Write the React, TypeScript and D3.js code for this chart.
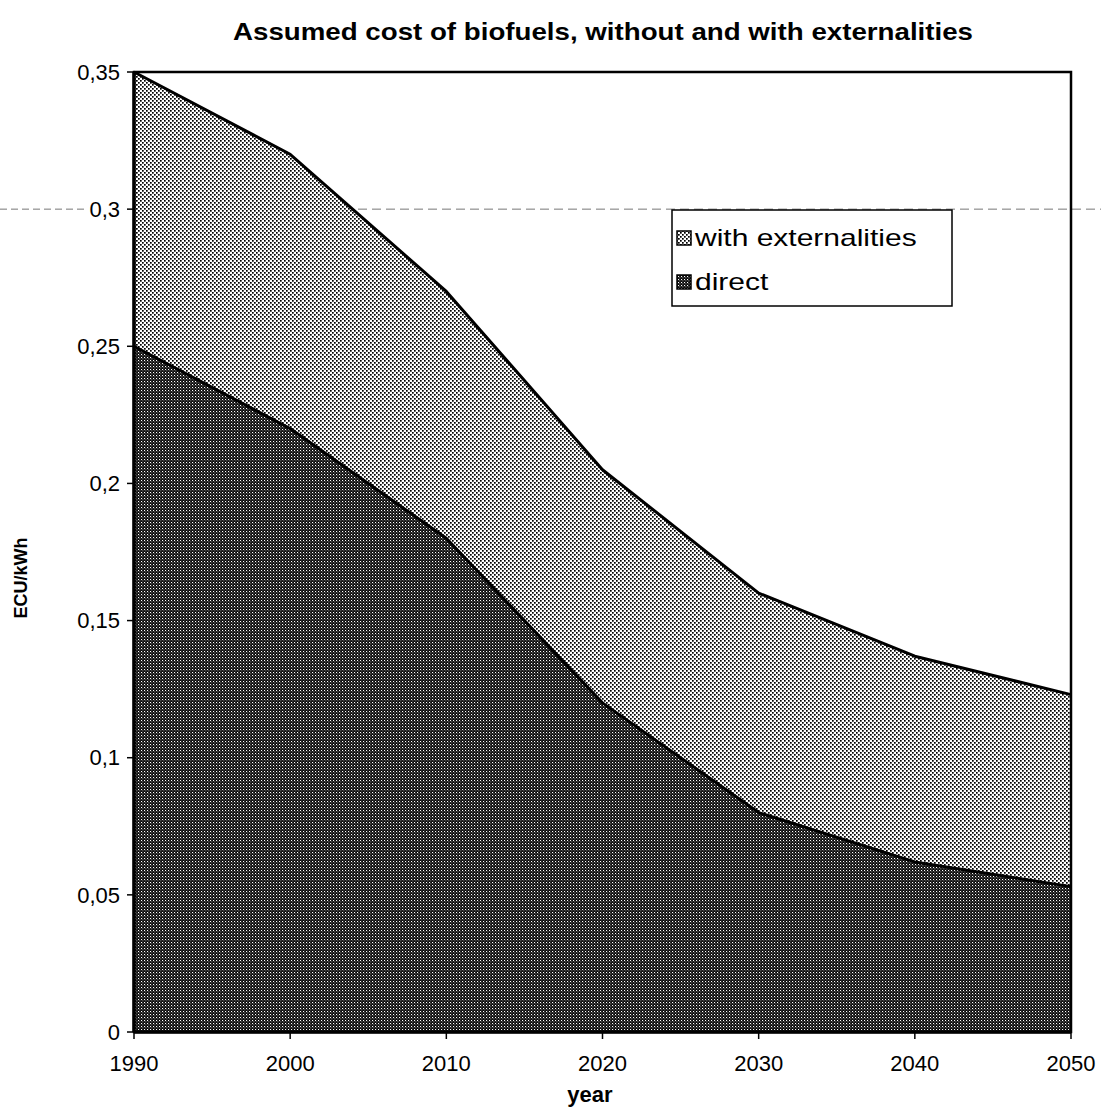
import React from "react";
import * as d3 from "d3";

const years = [1990, 2000, 2010, 2020, 2030, 2040, 2050];
const direct = [0.25, 0.22, 0.18, 0.12, 0.08, 0.062, 0.053];
const externalities = [0.1, 0.1, 0.09, 0.085, 0.08, 0.075, 0.07];
const yTicks = [0, 0.05, 0.1, 0.15, 0.2, 0.25, 0.3, 0.35];
const xTicks = [1990, 2000, 2010, 2020, 2030, 2040, 2050];
const seriesNames = ["with externalities", "direct"];
const title = "Assumed cost of biofuels, without and with externalities";

const W = 1101;
const H = 1112;
const left = 134;
const right = 1071;
const top = 72;
const bottom = 1032;
const font = "'Liberation Sans', Arial, sans-serif";

export default function App() {
  const x = d3.scaleLinear().domain([1990, 2050]).range([left, right]);
  const y = d3.scaleLinear().domain([0, 0.35]).range([bottom, top]);
  const rows = years.map((yr, i) => ({ year: yr, direct: direct[i], ext: externalities[i] }));
  const stack = d3.stack<any>().keys(["direct", "ext"])(rows);
  const area = d3
    .area<any>()
    .x((d) => x(d.data.year))
    .y0((d) => y(d[0]))
    .y1((d) => y(d[1]));
  const topLine = d3
    .line<any>()
    .x((d) => x(d.data.year))
    .y((d) => y(d[1]));
  const fmt = (v: number) => (v === 0 ? "0" : String(+v.toFixed(2)).replace(".", ","));
  const extArea = area(stack[1].map((d: any) => Object.assign([0, d[1]], { data: d.data })) as any);
  const dirArea = area(stack[0] as any);

  const legX = 672;
  const legY = 210;

  return (
    <svg width={W} height={H} style={{ position: "absolute", left: 0, top: 0, background: "#fff" }}>
      <defs>
        <pattern id="light" width="4" height="4" patternUnits="userSpaceOnUse">
          <rect width="4" height="4" fill="#fff" />
          <rect x="0" y="0" width="1.7" height="1.7" fill="#000" />
          <rect x="2" y="2" width="1.7" height="1.7" fill="#000" />
        </pattern>
        <pattern id="dark" width="3" height="3" patternUnits="userSpaceOnUse">
          <rect width="3" height="3" fill="#0a0a0a" />
          <rect x="0" y="0" width="1.1" height="1.1" fill="#fff" />
          <rect x="1.5" y="1.5" width="0.8" height="0.8" fill="#fff" />
        </pattern>
      </defs>

      {/* scan artifact dashed line */}
      <line x1={0} x2={84} y1={y(0.3)} y2={y(0.3)} stroke="#777" strokeWidth={1} strokeDasharray="7,4" />
      <line x1={left} x2={W} y1={y(0.3)} y2={y(0.3)} stroke="#777" strokeWidth={1} strokeDasharray="9,5" />

      <path d={extArea || ""} fill="url(#light)" />
      <path d={dirArea || ""} fill="url(#dark)" />
      <path d={topLine(stack[1] as any) || ""} fill="none" stroke="#000" strokeWidth={3} strokeLinejoin="round" />
      <path d={topLine(stack[0] as any) || ""} fill="none" stroke="#000" strokeWidth={3} strokeLinejoin="round" />

      {/* plot frame */}
      <rect x={left} y={top} width={right - left} height={bottom - top} fill="none" stroke="#000" strokeWidth={2.5} />
      <line x1={left} x2={left} y1={top} y2={bottom} stroke="#000" strokeWidth={3.5} />
      <line x1={left} x2={right} y1={bottom} y2={bottom} stroke="#000" strokeWidth={3.5} />

      {yTicks.map((t) => (
        <g key={t}>
          <line x1={left - 7} x2={left} y1={y(t)} y2={y(t)} stroke="#000" strokeWidth={1.5} />
          <text x={left - 14} y={y(t)} dy="0.35em" textAnchor="end" fontFamily={font} fontSize={22} fill="#000">
            {fmt(t)}
          </text>
        </g>
      ))}
      {xTicks.map((t) => (
        <g key={t}>
          <line x1={x(t)} x2={x(t)} y1={bottom} y2={bottom + 7} stroke="#000" strokeWidth={1.5} />
          <text x={x(t)} y={1071} textAnchor="middle" fontFamily={font} fontSize={22} fill="#000">
            {t}
          </text>
        </g>
      ))}

      <text
        x={603}
        y={40}
        textAnchor="middle"
        fontFamily={font}
        fontSize={24}
        fontWeight="bold"
        fill="#000"
        textLength={740}
        lengthAdjust="spacingAndGlyphs"
      >
        {title}
      </text>
      <text x={590} y={1102} textAnchor="middle" fontFamily={font} fontSize={22} fontWeight="bold" fill="#000">
        year
      </text>
      <text
        transform={`translate(27,578) rotate(-90)`}
        textAnchor="middle"
        fontFamily={font}
        fontSize={18}
        fontWeight="bold"
        fill="#000"
      >
        ECU/kWh
      </text>

      {/* legend */}
      <rect x={legX} y={legY} width={280} height={96} fill="#fff" stroke="#000" strokeWidth={1.5} />
      {seriesNames.map((name, i) => (
        <g key={name}>
          <rect
            x={legX + 5}
            y={legY + 21 + i * 44}
            width={14}
            height={14}
            fill={i === 0 ? "url(#light)" : "url(#dark)"}
            stroke="#000"
            strokeWidth={1.5}
          />
          <text
            transform={`translate(${legX + 23},${legY + 36 + i * 44}) scale(1.25,1)`}
            fontFamily={font}
            fontSize={24}
            fill="#000"
          >
            {name}
          </text>
        </g>
      ))}
    </svg>
  );
}
